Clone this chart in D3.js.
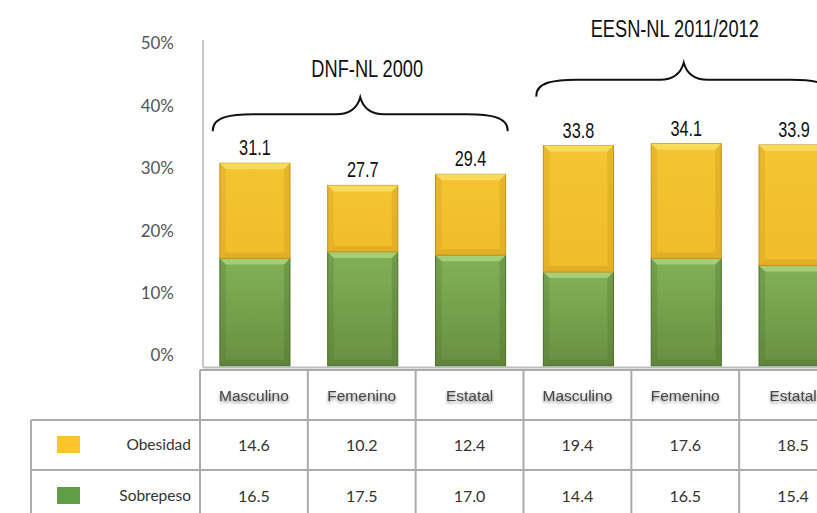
<!DOCTYPE html>
<html><head><meta charset="utf-8">
<script src="https://cdn.jsdelivr.net/npm/d3@7/dist/d3.min.js"></script>
<style>
body{margin:0;background:#fff;}
svg{display:block;}
</style></head>
<body>
<svg id="c" width="817" height="513"></svg>
<script>
const categories = ["Masculino","Femenino","Estatal","Masculino","Femenino","Estatal"];
const obesidad = [14.6,10.2,12.4,19.4,17.6,18.5];
const sobrepeso = [16.5,17.5,17.0,14.4,16.5,15.4];
const totals = [31.1,27.7,29.4,33.8,34.1,33.9];
const yTicks = [0,10,20,30,40,50];
const groupNames = ["DNF-NL 2000","EESN-NL 2011/2012"];
const groupFrom = [0,3];
const groupTo = [2,5];
const seriesNames = ["Obesidad","Sobrepeso"];
const seriesColors = ["#fcc42a","#5e9e44"];

// style/layout config
const braceGap = [32, 47];
const titleShift = [7, -9];
const titleGap = [29, 34];
const narrow = "'Liberation Sans', Arial, sans-serif";

const svg = d3.select("#c");
const defs = svg.append("defs");
const gy = defs.append("linearGradient").attr("id","gY").attr("x1",0).attr("y1",0).attr("x2",0).attr("y2",1);
gy.append("stop").attr("offset",0).attr("stop-color","#f4c431");
gy.append("stop").attr("offset",1).attr("stop-color","#f1bd2a");
const gg = defs.append("linearGradient").attr("id","gG").attr("x1",0).attr("y1",0).attr("x2",0).attr("y2",1);
gg.append("stop").attr("offset",0).attr("stop-color","#82b157");
gg.append("stop").attr("offset",1).attr("stop-color","#688f40");
const f = defs.append("filter").attr("id","sh").attr("x","-20%").attr("y","-50%").attr("width","140%").attr("height","200%");
f.append("feGaussianBlur").attr("in","SourceAlpha").attr("stdDeviation",1.6).attr("result","b");
f.append("feOffset").attr("in","b").attr("dx",0).attr("dy",2).attr("result","o");
f.append("feComponentTransfer").attr("in","o").attr("result","o2").append("feFuncA").attr("type","linear").attr("slope",0.5);
const m = f.append("feMerge"); m.append("feMergeNode").attr("in","o2"); m.append("feMergeNode").attr("in","SourceGraphic");

const x = d3.scaleBand().domain(d3.range(categories.length)).range([201, 848]).paddingInner(0.35).paddingOuter(0.175);
const y = d3.scaleLinear().domain([0,50]).range([366,40]);
const yLab = d3.scaleLinear().domain([0,50]).range([355,43]);

// y labels
const ax = svg.append("g").attr("transform","translate(174,0)")
  .call(d3.axisLeft(yLab).tickValues(yTicks).tickFormat(d=>d+"%").tickSize(0).tickPadding(0));
ax.select(".domain").remove();
ax.selectAll("text").attr("font-family","Lato, 'Open Sans', sans-serif").attr("font-size",17).attr("fill","#555").attr("dy","0.35em");

// axis line
svg.append("line").attr("x1",203).attr("x2",203).attr("y1",y(50)).attr("y2",y(0)+1).attr("stroke","#b5b5b5").attr("stroke-width",1.5);

// bars
const bw = x.bandwidth();
function bar(g, x0, y0, y1, fill, light, edge){
  const h = y1 - y0;
  g.append("rect").attr("x",x0).attr("y",y0).attr("width",bw).attr("height",h).attr("fill",fill).attr("stroke",edge).attr("stroke-width",1);
  const b = Math.min(6, h/3);
  g.append("path").attr("d",`M${x0},${y0}L${x0+bw},${y0}L${x0+bw-b},${y0+b}L${x0+b},${y0+b}Z`).attr("fill",light).attr("opacity",0.9);
  g.append("path").attr("d",`M${x0},${y0}L${x0+b},${y0+b}L${x0+b},${y1-b}L${x0},${y1}Z`).attr("fill",edge).attr("opacity",0.25);
  g.append("path").attr("d",`M${x0+bw},${y0}L${x0+bw-b},${y0+b}L${x0+bw-b},${y1-b}L${x0+bw},${y1}Z`).attr("fill",edge).attr("opacity",0.3);
  g.append("path").attr("d",`M${x0},${y1}L${x0+b},${y1-b}L${x0+bw-b},${y1-b}L${x0+bw},${y1}Z`).attr("fill",edge).attr("opacity",0.35);
}
const bars = svg.append("g");
categories.forEach((c,i)=>{
  const x0 = x(i);
  bar(bars, x0, y(sobrepeso[i]), y(0), "url(#gG)", "#a9d27c", "#4d6e2e");
  bar(bars, x0, y(sobrepeso[i]+obesidad[i]), y(sobrepeso[i]), "url(#gY)", "#f8de5e", "#c2931f");
});

// baseline
svg.append("line").attr("x1",203).attr("x2",817).attr("y1",y(0)+1.5).attr("y2",y(0)+1.5).attr("stroke","#bdbdbd").attr("stroke-width",2);

// totals
svg.append("g").selectAll("text").data(totals).join("text")
  .attr("transform",(d,i)=>`translate(${x(i)+bw/2},${y(d)-8}) scale(0.74,1)`)
  .attr("text-anchor","middle").attr("font-family",narrow)
  .attr("font-size",22).attr("fill","#111").text(d=>d.toFixed(1));

// braces and group titles
groupNames.forEach((name,gi)=>{
  const x1 = x(groupFrom[gi]) - 7, x2 = x(groupTo[gi]) + bw + 2;
  const top = d3.max(totals.slice(groupFrom[gi], groupTo[gi]+1));
  const yEnd = y(top) - braceGap[gi];
  const yMid = yEnd - 17, yTip = yEnd - 34;
  const xm = (x1+x2)/2;
  const p = d3.path();
  p.moveTo(x1, yEnd);
  p.bezierCurveTo(x1-1, yMid+2, x1+20, yMid, x1+40, yMid);
  p.lineTo(xm-24, yMid);
  p.bezierCurveTo(xm-10, yMid, xm-3, yMid-6, xm, yTip);
  p.bezierCurveTo(xm+3, yMid-6, xm+10, yMid, xm+24, yMid);
  p.lineTo(x2-40, yMid);
  p.bezierCurveTo(x2-20, yMid, x2+1, yMid+2, x2, yEnd);
  svg.append("path").attr("d",p.toString()).attr("fill","none").attr("stroke","#111").attr("stroke-width",2);
  svg.append("text").attr("transform",`translate(${xm+titleShift[gi]},${yTip-titleGap[gi]}) scale(0.76,1)`)
    .attr("dy","0.35em").attr("text-anchor","middle")
    .attr("font-family",narrow)
    .attr("font-size",24).attr("fill","#111").text(name);
});

// table
const tg = svg.append("g");
const lineC = "#ababab";
const cellX = i => x(i) - x.step()*x.paddingInner()/2 - 1;
const colEdges = d3.range(categories.length+1).map(i => i<categories.length ? cellX(i) : cellX(i-1)+x.step());
const rowY = [370, 420, 470, 522];
const tableLeft = 31;
tg.append("line").attr("x1",colEdges[0]).attr("x2",817).attr("y1",rowY[0]).attr("y2",rowY[0]).attr("stroke",lineC).attr("stroke-width",2);
[1,2].forEach(r=>tg.append("line").attr("x1",tableLeft).attr("x2",817).attr("y1",rowY[r]).attr("y2",rowY[r]).attr("stroke",lineC).attr("stroke-width",2));
colEdges.forEach(cx=>tg.append("line").attr("x1",cx).attr("x2",cx).attr("y1",rowY[0]).attr("y2",513).attr("stroke",lineC).attr("stroke-width",2));
tg.append("line").attr("x1",tableLeft).attr("x2",tableLeft).attr("y1",rowY[1]).attr("y2",513).attr("stroke",lineC).attr("stroke-width",2);

// header text
tg.selectAll("text.h").data(categories).join("text").attr("class","h")
  .attr("x",(d,i)=>(colEdges[i]+colEdges[i+1])/2).attr("y",(rowY[0]+rowY[1])/2+1)
  .attr("dy","0.35em").attr("text-anchor","middle")
  .attr("font-family","'Liberation Sans', Arial, sans-serif").attr("font-size",15.5).attr("fill","#444")
  .attr("filter","url(#sh)").text(d=>d);

// rows
const rows = [obesidad, sobrepeso];
rows.forEach((vals,r)=>{
  const cy = (rowY[r+1]+rowY[r+2])/2;
  tg.append("rect").attr("x",57).attr("y",cy-9).attr("width",23).attr("height",17).attr("fill",seriesColors[r]);
  tg.append("text").attr("x",191).attr("y",cy).attr("dy","0.35em").attr("text-anchor","end")
    .attr("font-family","Lato, 'Open Sans', sans-serif").attr("font-size",15.5).attr("fill","#333").text(seriesNames[r]);
  tg.selectAll("text.v"+r).data(vals).join("text").attr("class","v"+r)
    .attr("x",(d,i)=>(colEdges[i]+colEdges[i+1])/2).attr("y",cy).attr("dy","0.35em").attr("text-anchor","middle")
    .attr("font-family","Lato, 'Open Sans', sans-serif").attr("font-size",16).attr("fill","#333").text(d=>d.toFixed(1));
});
</script>
</body></html>
